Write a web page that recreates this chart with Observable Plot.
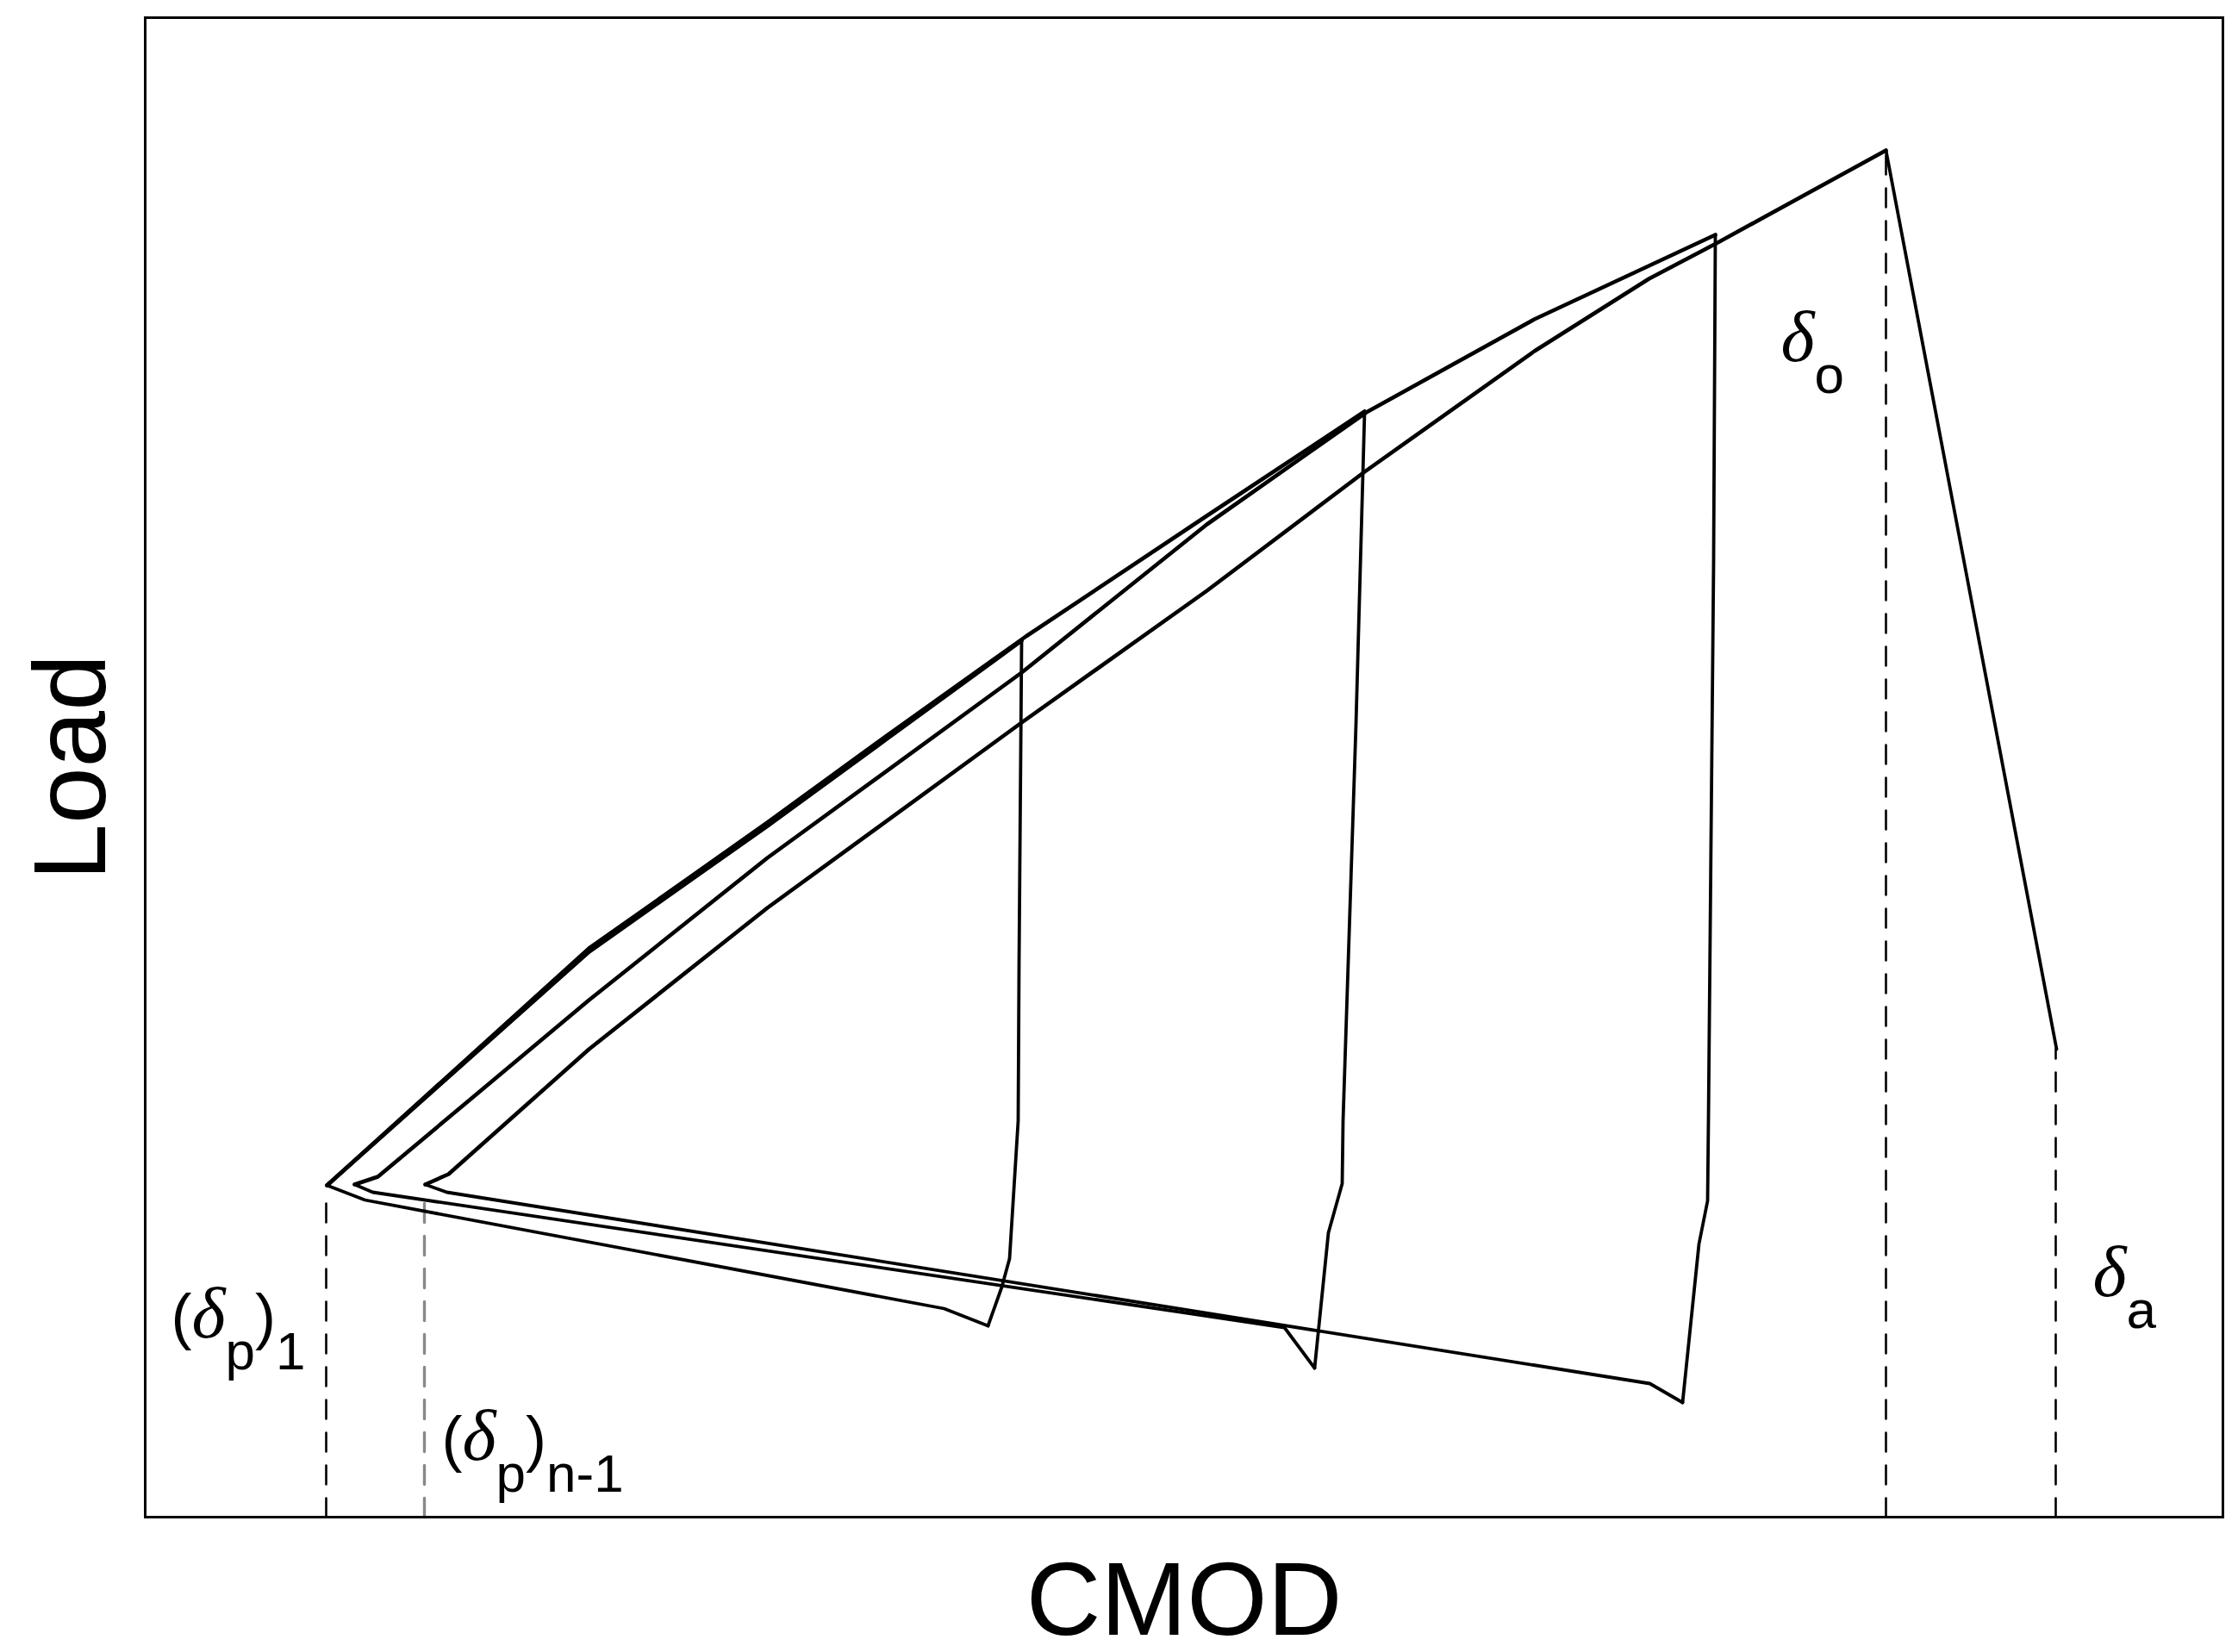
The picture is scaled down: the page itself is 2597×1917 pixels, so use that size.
<!DOCTYPE html>
<html>
<head>
<meta charset="utf-8">
<script src="https://cdn.jsdelivr.net/npm/d3@7"></script>
<script src="https://cdn.jsdelivr.net/npm/@observablehq/plot@0.6"></script>
<style>
  html, body { margin: 0; padding: 0; background: #fff; }
  svg { display: block; }
</style>
</head>
<body>
<div id="chart"></div>
<script>
// CMOD (x) and Load (y), arbitrary units: [CMOD, Load]
const loading1   = [[211,385],[515,656],[722,802],[862,904],[1017,1017]];
const unloading1 = [[1017,1017],[1014,640],[1013,460],[1003,300],[994,267],[978,222]];
const return1    = [[978,222],[927,242],[255,368],[211,385]];

const loading2   = [[211,385],[515,660],[722,806],[862,908],[1022,1022],[1232,1162],[1415,1283]];
const unloading2 = [[1415,1283],[1405,920],[1390,460],[1389,387],[1373,330],[1357,173]];
const return2    = [[1357,173],[1322,220],[264,377],[243,386]];

const loading3   = [[243,386],[270,395],[515,600],[722,765],[1017,980],[1232,1152],[1417,1282],[1612,1390],[1822,1488]];
const unloading3 = [[1822,1488],[1820,1110],[1814,460],[1813,367],[1803,317],[1784,133]];
const return3    = [[1784,133],[1746,155],[350,377],[325,386]];

const loading4   = [[325,386],[352,398],[515,543],[722,707],[1017,922],[1232,1075],[1415,1213],[1612,1353],[1745,1437],[1823,1478],[2020,1586]];
const unloading4 = [[2020,1586],[2218,543]];

// dashed reference CMOD values: [CMOD, load at top of guide, name]
const guides = [
  [210, 374, "dp1"],
  [324, 367, "dpn1"],
  [2020, 1586, "do"],
  [2217, 543, "da"]
];

// labels: [CMOD, Load, name]
const labels = [
  [30, 209, "dp1"],
  [344, 67, "dpn1"],
  [1898, 1342, "do"],
  [2260, 257, "da"]
];

const xDomain = [0, 2411];
const yDomain = [0, 1740];

// ---- build tables ----
const segs = {loading1, unloading1, return1, loading2, unloading2, return2,
              loading3, unloading3, return3, loading4, unloading4};
const rows = [];
for (const [name, pts] of Object.entries(segs)) {
  for (const [x, y] of pts) rows.push({seg: name, kind: name.startsWith("loading") ? "load" : "other", x, y});
}
const guideRows = [];
for (const [x, top, name] of guides) {
  guideRows.push({name, x, y: 0});
  guideRows.push({name, x, y: top});
}
const labelRows = labels.map(([x, y, name]) => ({x, y, name}));

const plot = Plot.plot({
  width: 2597,
  height: 1917,
  marginLeft: 168,
  marginRight: 18,
  marginTop: 20,
  marginBottom: 157,
  x: {domain: xDomain, axis: null},
  y: {domain: yDomain, axis: null},
  style: {fontFamily: "'Liberation Sans', Arial, sans-serif", background: "#fff", color: "#000"},
  marks: [
    Plot.line(guideRows.filter(d => d.name !== "dpn1"), {x: "x", y: "y", z: "name", stroke: "#000", strokeWidth: 2.6, strokeDasharray: "22,16"}),
    Plot.line(guideRows.filter(d => d.name === "dpn1"), {x: "x", y: "y", z: "name", stroke: "#888", strokeWidth: 3.4, strokeDasharray: "22,16"}),
    Plot.line(rows.filter(d => d.kind === "load"), {x: "x", y: "y", z: "seg", stroke: "#000", strokeWidth: 4.6, strokeLinejoin: "round", strokeLinecap: "round"}),
    Plot.line(rows.filter(d => d.kind !== "load"), {x: "x", y: "y", z: "seg", stroke: "#000", strokeWidth: 3.8, strokeLinejoin: "round", strokeLinecap: "round"}),
    Plot.frame({stroke: "#000", strokeWidth: 3}),
    Plot.text(labelRows, {x: "x", y: "y", text: "name", textAnchor: "start", lineAnchor: "bottom", fontSize: 72, className: "lbl"}),
    Plot.text(["CMOD"], {text: d => d, frameAnchor: "bottom", dy: 136, lineAnchor: "bottom", fontSize: 120}),
    Plot.text(["Load"], {text: d => d, frameAnchor: "left", rotate: -90, dx: -47, lineAnchor: "bottom", textAnchor: "middle", fontSize: 118})
  ]
});

document.getElementById("chart").appendChild(plot);

// rich text (Greek delta + subscripts)
const SUB = 37;
const serif = "'Liberation Serif', 'Times New Roman', serif";
const sans = "'Liberation Sans', Arial, sans-serif";
const parts = {
  dp1:  [["(", sans, 72, 0, "normal"], ["δ", serif, 84, 0, "italic"], ["p", sans, 62, SUB, "normal"], [")", sans, 72, -SUB, "normal"], ["1", sans, 62, SUB, "normal"]],
  dpn1: [["(", sans, 72, 0, "normal"], ["δ", serif, 84, 0, "italic"], ["p", sans, 62, SUB, "normal"], [")", sans, 72, -SUB, "normal"], ["n-1", sans, 62, SUB, "normal"]],
  do:   [["δ", serif, 84, 0, "italic"], ["o", sans, 62, SUB, "normal"]],
  da:   [["δ", serif, 84, 0, "italic"], ["a", sans, 62, SUB, "normal"]]
};
d3.select(plot).selectAll("g.lbl text").each(function (i) {
  const t = d3.select(this);
  const key = labelRows[i].name;
  t.text(null);
  for (const [s, fam, size, dy, style] of parts[key]) {
    t.append("tspan").attr("font-family", fam).attr("font-size", size).attr("font-style", style).attr("dy", dy).text(s);
  }
});
</script>
</body>
</html>
